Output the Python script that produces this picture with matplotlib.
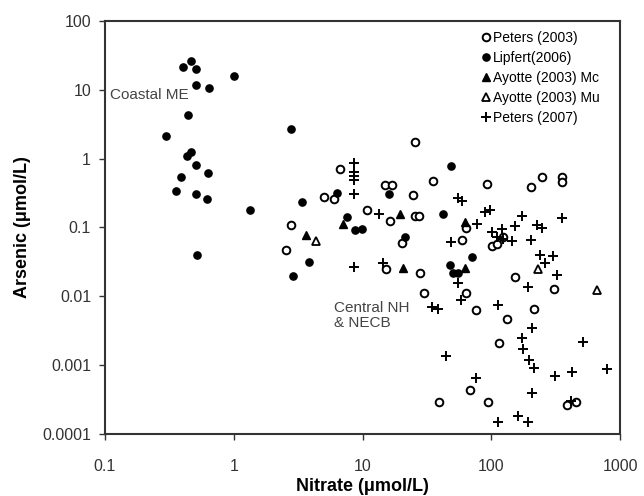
import matplotlib
matplotlib.use("Agg")
import matplotlib.pyplot as plt
from matplotlib.ticker import FixedLocator, FixedFormatter, NullLocator

plt.rcParams['font.family'] = ['Liberation Sans', 'DejaVu Sans']

# Peters (2003) - open circles
peters03_x = [6.69, 5.02, 6.01, 2.78, 2.55, 25.6, 15.0, 16.9, 24.7, 35.3, 10.8, 16.4, 25.6, 27.5,
              20.3, 15.2, 28.0, 92.7, 204, 248, 355, 355, 63.7, 59.3, 101, 111, 153, 307, 30.0,
              63.7, 76.2, 215, 132, 115, 68.4, 39.3, 94.4, 387, 455, 123]
peters03_y = [0.708, 0.277, 0.259, 0.109, 0.0471, 1.75, 0.414, 0.414, 0.296, 0.473, 0.179, 0.124,
              0.147, 0.147, 0.0595, 0.0249, 0.0218, 0.428, 0.387, 0.542, 0.542, 0.458, 0.0984,
              0.0658, 0.0539, 0.0576, 0.0191, 0.0128, 0.0112, 0.0112, 0.00633, 0.00655, 0.00468,
              0.0021, 0.000435, 0.000292, 0.000292, 0.000264, 0.000292, 0.0728]

# Lipfert (2006) - filled circles
lipfert_x = [0.466, 0.40, 0.51, 0.51, 0.64, 1.0, 0.44, 0.30, 2.78, 0.466, 0.434, 0.51, 0.39, 0.63,
             0.356, 0.51, 0.62, 1.34, 3.39, 0.52, 3.84, 2.88, 6.34, 7.58, 8.75, 9.9, 16.1, 21.4,
             42.2, 48.7, 47.8, 70.8, 50.4, 55.2]
lipfert_y = [26.2, 21.5, 20.1, 11.7, 10.6, 15.9, 4.3, 2.13, 2.70, 1.25, 1.09, 0.81, 0.54, 0.62,
             0.34, 0.31, 0.26, 0.18, 0.234, 0.040, 0.0315, 0.0197, 0.317, 0.142, 0.092, 0.095,
             0.307, 0.073, 0.157, 0.78, 0.0285, 0.037, 0.0218, 0.0218]

# Ayotte (2003) Mc - filled triangles
ayotte_mc_x = [3.64, 7.06, 19.5, 20.6, 62.5, 62.5]
ayotte_mc_y = [0.0778, 0.112, 0.157, 0.0258, 0.120, 0.0258]

# Ayotte (2003) Mu - open triangles
ayotte_mu_x = [4.35, 231, 662]
ayotte_mu_y = [0.0637, 0.0249, 0.0124]

# Peters (2007) - plus
peters07_x = [8.59, 8.59, 8.59, 8.59, 8.59, 13.4, 8.59, 14.4, 55.2, 59.3, 89.4, 97.8, 173, 355,
              77.5, 153, 227, 248, 48.7, 101, 121, 111, 123, 145, 204, 239, 302, 261, 324, 193,
              55.2, 58.2, 34.7, 38.6, 113, 207, 516, 173, 176, 196, 215, 44.5, 424, 313, 793,
              76.2, 207, 417, 113, 161, 193]
peters07_y = [0.865, 0.640, 0.560, 0.490, 0.307, 0.157, 0.0267, 0.0305, 0.268, 0.243, 0.168,
              0.179, 0.147, 0.137, 0.112, 0.105, 0.109, 0.0984, 0.0616, 0.086, 0.095, 0.0728,
              0.068, 0.0637, 0.0658, 0.040, 0.0385, 0.0305, 0.0204, 0.0137, 0.0156, 0.00885,
              0.0070, 0.00655, 0.00748, 0.00347, 0.00217, 0.00248, 0.00172, 0.00119, 0.00091,
              0.00136, 0.00080, 0.000695, 0.00088, 0.00065, 0.000394, 0.000301, 0.000149,
              0.000182, 0.000149]

x_ticks = [0.1, 1, 10, 100, 1000]
x_labels = ["0.1", "1", "10", "100", "1000"]
y_ticks = [0.0001, 0.001, 0.01, 0.1, 1, 10, 100]
y_labels = ["0.0001", "0.001", "0.01", "0.1", "1", "10", "100"]

fig = plt.figure(figsize=(6.44, 4.96), dpi=100)
ax = fig.add_axes([0.163, 0.125, 0.8, 0.833])
ax.set_xscale('log')
ax.set_yscale('log')
ax.set_xlim(0.1, 1000)
ax.set_ylim(0.0001, 100)

ax.plot(peters03_x, peters03_y, linestyle='none', marker='o', ms=5.5, mfc='white', mec='black',
        mew=1.4, label='Peters (2003)')
ax.plot(lipfert_x, lipfert_y, linestyle='none', marker='o', ms=5.2, mfc='black', mec='black',
        label='Lipfert(2006)')
ax.plot(ayotte_mc_x, ayotte_mc_y, linestyle='none', marker='^', ms=6, mfc='black', mec='black',
        label='Ayotte (2003) Mc')
ax.plot(ayotte_mu_x, ayotte_mu_y, linestyle='none', marker='^', ms=5.5, mfc='white', mec='black',
        mew=1.3, label='Ayotte (2003) Mu')
ax.plot(peters07_x, peters07_y, linestyle='none', marker='+', ms=7, mec='black', mew=1.4,
        label='Peters (2007)')

ax.xaxis.set_major_locator(FixedLocator(x_ticks))
ax.xaxis.set_major_formatter(FixedFormatter(x_labels))
ax.yaxis.set_major_locator(FixedLocator(y_ticks))
ax.yaxis.set_major_formatter(FixedFormatter(y_labels))
ax.xaxis.set_minor_locator(NullLocator())
ax.yaxis.set_minor_locator(NullLocator())
ax.tick_params(axis='both', direction='out', length=4, width=1, colors='#333333',
               labelsize=11.5, pad=6)
ax.tick_params(axis='x', pad=14)
for s in ax.spines.values():
    s.set_linewidth(1.5)
    s.set_color('#333333')

ax.set_xlabel('Nitrate (μmol/L)', fontsize=13, fontweight='bold', labelpad=3)
ax.set_ylabel('Arsenic (μmol/L)', fontsize=13, fontweight='bold', labelpad=8)

ax.text(0.11, 8.4, 'Coastal ME', fontsize=11, color='#444444', va='center', ha='left')
ax.text(6.0, 0.0085, 'Central NH\n& NECB', fontsize=11, color='#444444', va='top', ha='left',
        linespacing=1.1)

leg = ax.legend(loc='upper left', bbox_to_anchor=(0.716, 0.988), fontsize=10, frameon=False,
                handletextpad=0.0, handlelength=1.0, labelspacing=0.42, borderaxespad=0.0,
                numpoints=1)

fig.savefig('out.png', dpi=100)
